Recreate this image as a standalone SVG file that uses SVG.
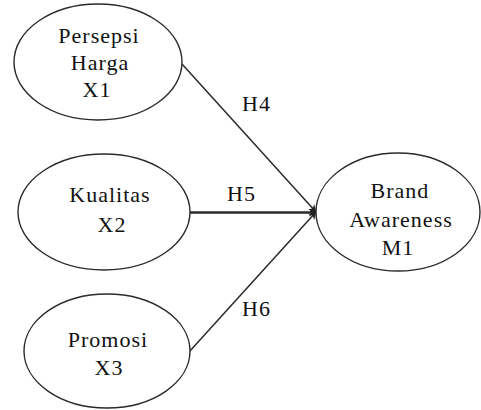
<svg xmlns="http://www.w3.org/2000/svg" width="481" height="410" viewBox="0 0 481 410">
<style>
.n ellipse{fill:#fff;stroke:#2a2a2a;stroke-width:1.4}
text{font-family:"Liberation Serif","Times New Roman",serif;font-size:22px;fill:#111;letter-spacing:1px}
.c{text-anchor:middle}
.e{stroke:#2a2a2a;stroke-width:1.5;fill:none;marker-end:url(#ah)}
</style>
<defs>
<marker id="ah" viewBox="0 0 10 10" refX="9" refY="5" markerWidth="8" markerHeight="8" markerUnits="userSpaceOnUse" orient="auto">
<path d="M0,0 L10,5 L0,10 L3,5 Z" fill="#222"/>
</marker>
</defs>
<rect width="481" height="410" fill="#fff"/>
<g id="connectors">
<line class="e" x1="182" y1="64" x2="316" y2="212"/>
<line class="e" x1="190" y1="212.5" x2="316" y2="212.5" style="stroke-width:2.6"/>
<line class="e" x1="189" y1="352" x2="316" y2="212"/>
<text x="242" y="111">H4</text>
<text x="227" y="201">H5</text>
<text x="242" y="316">H6</text>
</g>
<g id="x1" class="n">
<ellipse cx="98" cy="62" rx="84" ry="58"/>
<text class="c" x="99" y="43">Persepsi</text>
<text class="c" x="100" y="70">Harga</text>
<text class="c" x="97" y="97">X1</text>
</g>
<g id="x2" class="n">
<ellipse cx="104" cy="212" rx="86" ry="58"/>
<text class="c" x="110" y="202">Kualitas</text>
<text class="c" x="112" y="232">X2</text>
</g>
<g id="x3" class="n">
<ellipse cx="107" cy="351" rx="83" ry="57"/>
<text class="c" x="108" y="347">Promosi</text>
<text class="c" x="109" y="375">X3</text>
</g>
<g id="m1" class="n">
<ellipse cx="398" cy="212" rx="82" ry="59"/>
<text class="c" x="400" y="198">Brand</text>
<text class="c" x="401" y="227">Awareness</text>
<text class="c" x="398" y="255">M1</text>
</g>
</svg>
